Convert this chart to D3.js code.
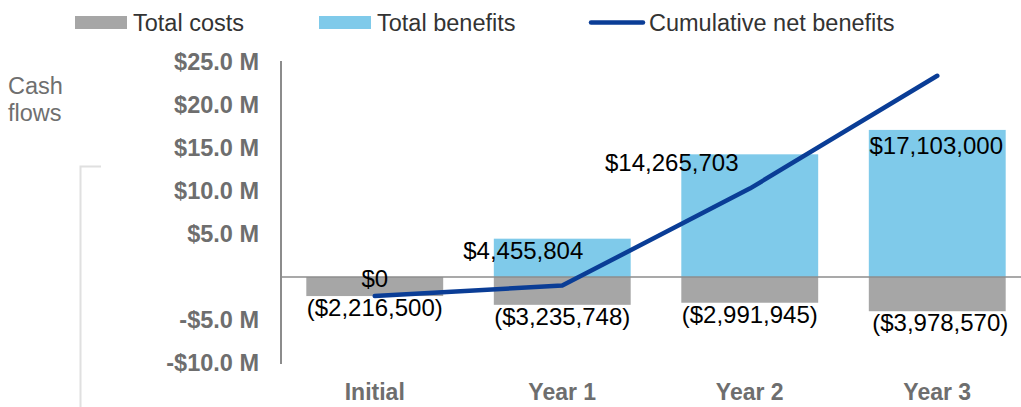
<!DOCTYPE html>
<html>
<head>
<meta charset="utf-8">
<script src="https://cdn.jsdelivr.net/npm/d3@7"></script>
<style>
  html, body { margin: 0; padding: 0; background: #fff; }
  svg { display: block; font-family: "Liberation Sans", Arial, sans-serif; }
</style>
</head>
<body>
<svg id="chart" width="1021" height="407"></svg>
<script>
// ---- data ----
const categories = ["Initial", "Year 1", "Year 2", "Year 3"];
const totalCosts = [-2216500, -3235748, -2991945, -3978570];
const totalBenefits = [0, 4455804, 14265703, 17103000];
const cumulativeNet = [-2216500, -996444, 10277314, 23401744];
const yTicks = [-10000000, -5000000, 5000000, 10000000, 15000000, 20000000, 25000000];
const seriesNames = ["Total costs", "Total benefits", "Cumulative net benefits"];

// ---- layout / style ----
const svg = d3.select("#chart");
const W = 1021, H = 407;
const axisX = 281;
const colors = { cost: "#a6a6a6", benefit: "#7fcaea", line: "#0a3d96", tick: "#6e6e6e", zero: "#8c8c8c" };
// manual label nudges for benefit labels (as placed in the original)
const benefitLabelDx = [0, -39, -78, -1];
const benefitLabelDy = [10, 20, 17, 24];
const costLabelDx = [0, 0, 0, 3];

const x = d3.scaleBand().domain(categories).range([axisX, axisX + 750]).paddingInner(0.27).paddingOuter(0.135);
const y = d3.scaleLinear().domain([-10000000, 25000000]).range([363, 62]);
const cx = d => x(d) + x.bandwidth() / 2;

// bracket decoration at left
svg.append("path")
  .attr("d", `M101,166.5 H80.5 V407`)
  .attr("fill", "none").attr("stroke", "#e0e0e0").attr("stroke-width", 2);

// "Cash flows" title
const t = svg.append("text").attr("x", 8).attr("fill", "#6f6f6f").attr("font-size", 23.5);
t.append("tspan").attr("x", 8).attr("y", 94).text("Cash");
t.append("tspan").attr("x", 8).attr("y", 121).text("flows");

// bars: costs
svg.append("g").selectAll("rect").data(categories).join("rect")
  .attr("x", d => x(d)).attr("width", x.bandwidth())
  .attr("y", y(0)).attr("height", (d, i) => y(totalCosts[i]) - y(0))
  .attr("fill", colors.cost);

// bars: benefits
svg.append("g").selectAll("rect").data(categories).join("rect")
  .attr("x", d => x(d)).attr("width", x.bandwidth())
  .attr("y", (d, i) => y(totalBenefits[i])).attr("height", (d, i) => y(0) - y(totalBenefits[i]))
  .attr("fill", colors.benefit);

// y axis
const yAxis = d3.axisLeft(y).tickValues(yTicks).tickSize(0).tickPadding(22)
  .tickFormat(d => (d < 0 ? "-" : "") + "$" + (Math.abs(d) / 1e6).toFixed(1) + " M");
const ga = svg.append("g").attr("transform", `translate(${axisX},0)`).call(yAxis);
ga.select(".domain").attr("stroke", colors.zero).attr("stroke-width", 2).attr("d", `M0,${y(25000000) - 1}V${y(-10000000) + 1}`);
ga.selectAll("text").attr("font-size", 23.5).attr("font-weight", "bold").attr("fill", colors.tick)
  .attr("font-family", '"Liberation Sans", Arial, sans-serif');

// zero line
svg.append("line").attr("x1", axisX).attr("x2", W).attr("y1", y(0)).attr("y2", y(0))
  .attr("stroke", colors.zero).attr("stroke-width", 1.5);

// x labels
svg.append("g").selectAll("text").data(categories).join("text")
  .attr("x", d => cx(d)).attr("y", 400).attr("text-anchor", "middle")
  .attr("font-size", 23).attr("font-weight", "bold").attr("fill", colors.tick)
  .text(d => d);

// cumulative line
svg.append("path").datum(categories)
  .attr("d", d3.line().x(d => cx(d)).y((d, i) => y(cumulativeNet[i])))
  .attr("fill", "none").attr("stroke", colors.line).attr("stroke-width", 4.5)
  .attr("stroke-linecap", "round").attr("stroke-linejoin", "round");

// labels
const fmt = d3.format(",");
svg.append("g").selectAll("text").data(categories).join("text")
  .attr("x", (d, i) => cx(d) + costLabelDx[i]).attr("y", (d, i) => y(totalCosts[i]) + 20)
  .attr("text-anchor", "middle").attr("font-size", 24).attr("fill", "#000")
  .text((d, i) => "($" + fmt(-totalCosts[i]) + ")");
svg.append("g").selectAll("text").data(categories).join("text")
  .attr("x", (d, i) => cx(d) + benefitLabelDx[i]).attr("y", (d, i) => y(totalBenefits[i]) + benefitLabelDy[i])
  .attr("text-anchor", "middle").attr("font-size", 24).attr("fill", "#000")
  .text((d, i) => "$" + fmt(totalBenefits[i]));

// legend
const legend = svg.append("g").attr("font-size", 23.5).attr("fill", "#333");
legend.append("rect").attr("x", 75).attr("y", 16).attr("width", 52).attr("height", 13).attr("fill", colors.cost);
legend.append("text").attr("x", 133).attr("y", 31).text(seriesNames[0]);
legend.append("rect").attr("x", 319).attr("y", 16).attr("width", 52).attr("height", 13).attr("fill", colors.benefit);
legend.append("text").attr("x", 377).attr("y", 31).text(seriesNames[1]);
legend.append("line").attr("x1", 591).attr("x2", 643).attr("y1", 22.5).attr("y2", 22.5)
  .attr("stroke", colors.line).attr("stroke-width", 4.5).attr("stroke-linecap", "round");
legend.append("text").attr("x", 649).attr("y", 31).text(seriesNames[2]);
</script>
</body>
</html>
